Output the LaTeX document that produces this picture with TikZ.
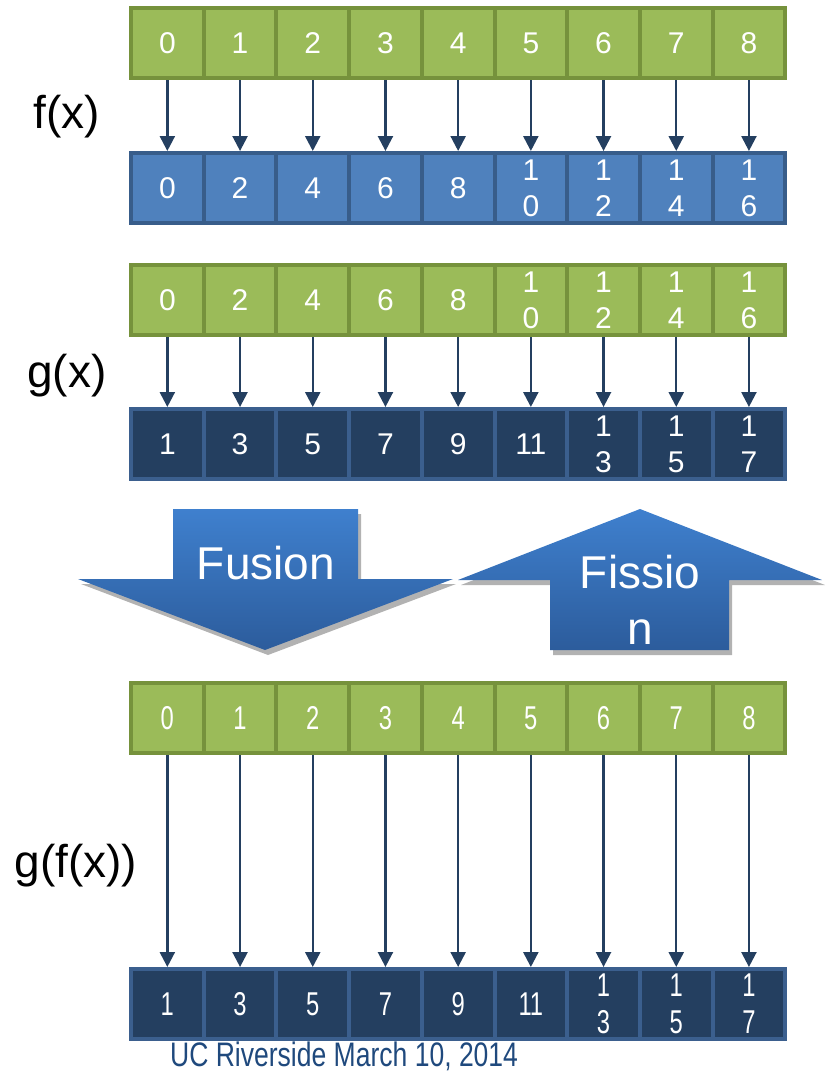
\documentclass[tikz,border=0pt]{standalone}
\usepackage{fontspec}
\setmainfont{Liberation Sans}
\newfontfamily\narrowsans[FakeStretch=0.72]{Liberation Sans}
\newfontfamily\footersans[FakeStretch=0.78]{Liberation Sans}
\usetikzlibrary{arrows.meta, positioning, shadows}
\definecolor{cellgreen}{HTML}{9BBB59}
\definecolor{greenline}{HTML}{76923C}
\definecolor{cellblue}{HTML}{4F81BD}
\definecolor{blueline}{HTML}{385D8A}
\definecolor{cellnavy}{HTML}{243F60}
\definecolor{navyline}{HTML}{3B5F8E}
\definecolor{arrownavy}{HTML}{243F60}
\definecolor{shadetop}{HTML}{3F80CE}
\definecolor{shadebottom}{HTML}{2C5C9C}
\definecolor{footerblue}{HTML}{1F497D}
\tikzset{
  cell/.style={
    rectangle, line width=4pt, minimum width=72.7pt, minimum height=70pt,
    inner sep=0pt, outer sep=2pt, align=center, text=white,
    font=\fontsize{30}{36}\selectfont
  },
  incell/.style={cell, draw=greenline, fill=cellgreen},
  dblcell/.style={cell, draw=blueline, fill=cellblue},
  outcell/.style={cell, draw=navyline, fill=cellnavy},
  narrow/.style={font=\narrowsans\fontsize{33}{37}\selectfont},
  map/.style={-{Triangle[width=15pt,length=15pt]}, line width=2.4pt, draw=arrownavy},
  fnlabel/.style={font=\fontsize{46}{50}\selectfont},
  bigarrow/.style={top color=shadetop, bottom color=shadebottom,
    drop shadow={shadow xshift=3pt, shadow yshift=-5pt, fill=black, opacity=.3}},
  bigtext/.style={text=white, align=center, font=\fontsize{46}{56}\selectfont}
}

\begin{document}
\begin{tikzpicture}[x=1pt, y=-1pt]
    \useasboundingbox (0,0) rectangle (827,1074);

    % f(x) : input and doubled values
    \foreach \v [count=\i from 0] in {0,1,2,3,4,5,6,7,8}
      \node[incell] (a\i) at ({131+72.7*(\i+0.5)},43) {\v};
    \foreach \v [count=\i from 0] in {0,2,4,6,8,1\\0,1\\2,1\\4,1\\6}
      \node[dblcell] (b\i) at ({131+72.7*(\i+0.5)},188) {\v};
    \foreach \i in {0,...,8}
      \draw[map] (a\i) -- (b\i);
    \node[fnlabel] (f) at (67,117) {f(x)};

    % g(x) : doubled values plus one
    \foreach \v [count=\i from 0] in {0,2,4,6,8,1\\0,1\\2,1\\4,1\\6}
      \node[incell] (c\i) at ({131+72.7*(\i+0.5)},300) {\v};
    \foreach \v [count=\i from 0] in {1,3,5,7,9,11,1\\3,1\\5,1\\7}
      \node[outcell] (d\i) at ({131+72.7*(\i+0.5)},444) {\v};
    \foreach \i in {0,...,8}
      \draw[map] (c\i) -- (d\i);
    \node[fnlabel] (g) at (67,376) {g(x)};

    % Fusion / Fission
    \path[bigarrow] (173,509) -- (358,509) -- (358,579) -- (453,579)
      -- (265,650) -- (78,579) -- (173,579) -- cycle;
    \node[bigtext] (fusion) at (266,563) {Fusion};
    \path[bigarrow] (640,509) -- (822,580) -- (729,580) -- (729,650)
      -- (550,650) -- (550,580) -- (458,580) -- cycle;
    \node[bigtext] (fission) at (640,600) {Fissio\\n};

    % g(f(x)) in one step
    \foreach \v [count=\i from 0] in {0,1,2,3,4,5,6,7,8}
      \node[incell, narrow] (e\i) at ({131+72.7*(\i+0.5)},718) {\v};
    \foreach \v [count=\i from 0] in {1,3,5,7,9,11,1\\3,1\\5,1\\7}
      \node[outcell, narrow] (h\i) at ({131+72.7*(\i+0.5)},1004) {\v};
    \foreach \i in {0,...,8}
      \draw[map] (e\i) -- (h\i);
    \node[fnlabel] (gf) at (76,866) {g(f(x))};

    \node[anchor=base west, text=footerblue, inner sep=0pt,
      font=\footersans\fontsize{34}{38}\selectfont] (footer) at (170,1066)
      {UC Riverside March 10, 2014};
\end{tikzpicture}
\end{document}
